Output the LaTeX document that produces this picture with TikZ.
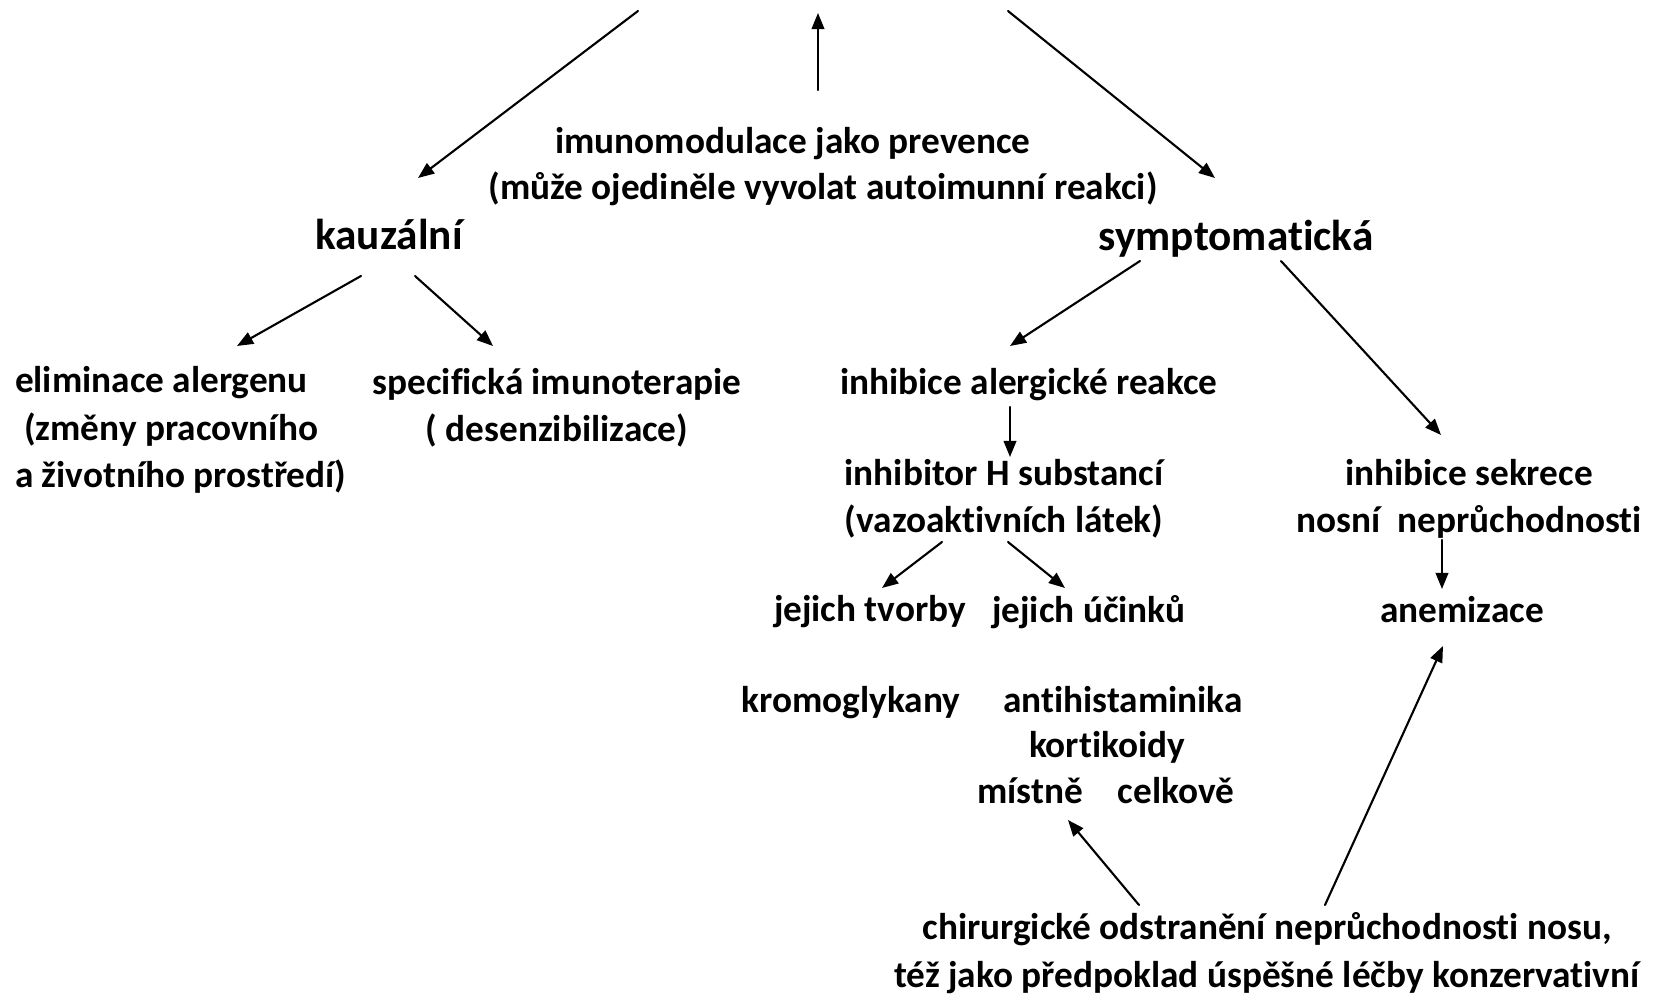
\documentclass[tikz,border=0pt]{standalone}
\usepackage{fontspec}
\setmainfont{Carlito}[Ligatures=NoCommon,RawFeature={-liga;-clig;-calt}]
\usetikzlibrary{arrows.meta,calc}
\definecolor{figink}{HTML}{000000}

\begin{document}
\begin{tikzpicture}[
  x=0.01cm,y=-0.01cm,
  draw=figink,text=figink,
  line width=0.6pt,line cap=round,line join=round,
  >={Triangle[length=4.6pt,width=3.6pt]},
  txt/.style={inner sep=0pt,font=\fontsize{10.6}{13.5}\selectfont\bfseries},
  head/.style={inner sep=0pt,font=\fontsize{12.3}{15}\selectfont\bfseries},
  twoline/.style={txt,align=center}
]
\useasboundingbox (0,0) rectangle (1659,994);

% Top: where the three branches come from (off the page).
\coordinate (topL) at (638,11);
\coordinate (topC) at (818,13);
\coordinate (topR) at (1008,11);

\node[txt] (imuno) at (793,144) {imunomodulace jako prevence};
\node[txt] (imunonote) at (823,189) {(může ojediněle vyvolat autoimunní reakci)};
\node[head] (kauz) at (389,234) {kauzální};
\node[head] (symp) at (1236,239) {symptomatická};

% Causal branch.
\node[txt,align=left,anchor=west] (elim) at (14,430)
  {eliminace alergenu\\\hspace{2.6pt}(změny pracovního\\a životního prostředí)};
\node[twoline] (spec) at (557,408) {specifická imunoterapie\\( desenzibilizace)};

% Symptomatic branch.
\node[txt] (inhal) at (1029,385) {inhibice alergické reakce};
\node[twoline] (inhH) at (1004,499) {inhibitor H substancí\\(vazoaktivních látek)};
\node[twoline] (sekr) at (1469,499) {inhibice sekrece\\nosní\ \ neprůchodnosti};
\node[txt] (tvorby) at (870,612) {jejich tvorby};
\node[txt] (ucinku) at (1089,612) {jejich účinků};
\node[txt] (anem) at (1462,610) {anemizace};

% Drugs.
\node[txt] (kromo) at (851,703) {kromoglykany};
\node[txt] (antih) at (1123,700) {antihistaminika};
\node[txt] (korti) at (1107,747) {kortikoidy};
\node[txt] (mistne) at (1030,791) {místně};
\node[txt] (celk) at (1176,791) {celkově};

\node[twoline] (chir) at (1267,953)
  {chirurgické odstranění neprůchodnosti nosu,\\též jako předpoklad úspěšné léčby konzervativní};

% Arrows.
\draw[->] (topL) -- ($(kauz)+(29,-56)$);
\draw[->] ($(imuno)+(25,-54)$) -- (topC);
\draw[->] (topR) -- ($(symp)+(-21,-61)$);
\draw[->] ($(kauz)+(-28,42)$) -- ($(elim.west)+(223,-84)$);
\draw[->] ($(kauz)+(26,42)$) -- ($(spec)+(-64,-62)$);
\draw[->] ($(symp)+(-96,22)$) -- ($(inhal)+(-19,-39)$);
\draw[->] ($(symp)+(45,22)$) -- ($(sekr)+(-28,-64)$);
\draw[->] ($(inhal)+(-19,22)$) -- ($(inhH)+(6,-42)$);
\draw[->] ($(inhH)+(-62,43)$) -- ($(tvorby)+(12,-24)$);
\draw[->] ($(inhH)+(4,43)$) -- ($(ucinku)+(-24,-24)$);
\draw[->] ($(sekr)+(-27,41)$) -- ($(anem)+(-20,-21)$);
\draw[->] ($(chir)+(-128,-48)$) -- ($(mistne)+(38,29)$);
\draw[->] ($(chir)+(58,-48)$) -- ($(anem)+(-19,36)$);

\end{tikzpicture}
\end{document}
